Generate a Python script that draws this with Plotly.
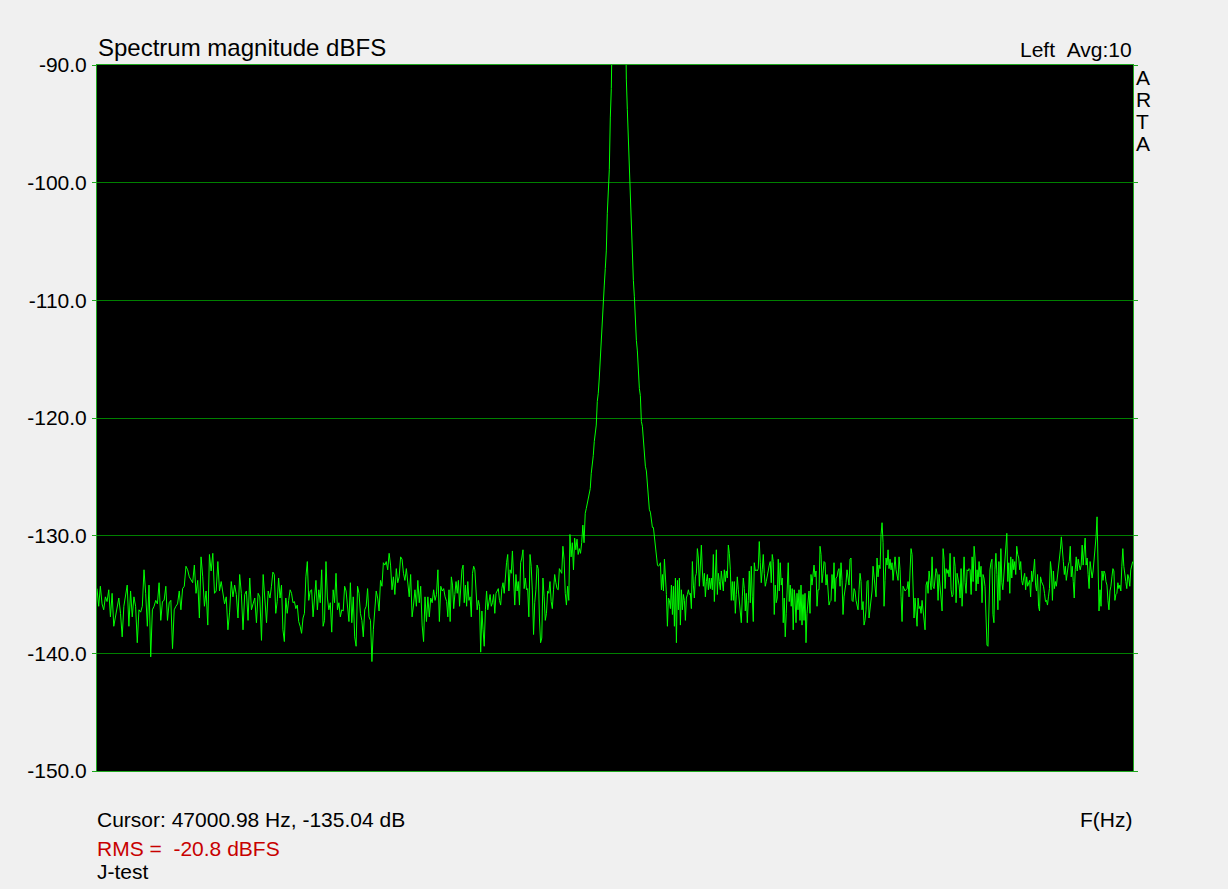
import numpy as np
import plotly.graph_objects as go

# ---------------- data ----------------
FREQ_MIN, FREQ_MAX = 46000, 50000          # x-axis span in Hz (no tick labels shown)
Y_MIN, Y_MAX = -150.0, -90.0
y_ticks = [-150.0, -140.0, -130.0, -120.0, -110.0, -100.0, -90.0]

# each segment: (start Hz, end Hz, magnitude values in dBFS)
seg1_hz = (46000, 46661)
seg1_db = [-134.5, -136.0, -134.3, -135.8, -136.3, -135.2, -135.6, -134.6, -136.9, -134.9, -137.7, -137.0,
           -136.3, -135.3, -136.6, -138.6, -136.0, -135.0, -134.2, -137.7, -134.7, -136.9, -135.2, -136.0,
           -139.1, -136.3, -136.5, -136.0, -132.9, -134.9, -137.7, -134.2, -140.3, -136.3, -136.0, -135.5,
           -135.8, -134.0, -137.2, -135.6, -135.5, -134.3, -137.2, -135.7, -135.5, -139.6, -136.3, -136.0,
           -135.8, -134.7, -136.3, -134.5, -134.3, -132.6, -132.9, -133.5, -133.8, -134.0, -132.5, -134.9,
           -133.8, -137.0, -131.8, -133.5, -136.0, -134.7, -137.6, -131.6, -133.0, -131.5, -134.9, -134.7,
           -132.2, -134.7, -133.9, -134.7, -135.8, -135.2, -138.0, -136.5, -133.9, -135.2, -134.2, -135.0,
           -137.0, -133.3, -134.9, -138.0, -135.0, -134.7, -137.2, -133.6, -136.3, -135.8, -135.3, -137.4,
           -134.9, -135.2, -138.9, -133.3, -135.5, -137.4, -134.7]

seg2_hz = (46668, 47344)
seg2_db = [-135.3, -134.3, -133.1, -133.3, -136.6, -135.6, -133.6, -135.3, -134.2, -138.0, -139.0, -135.3,
           -136.6, -135.5, -134.6, -134.9, -135.7, -135.6, -136.2, -135.9, -137.3, -137.7, -138.3, -137.0,
           -136.6, -133.5, -132.2, -135.5, -134.7, -134.6, -136.9, -135.3, -133.8, -136.3, -134.6, -135.7,
           -132.9, -137.7, -137.2, -132.2, -135.3, -136.3, -135.7, -138.2, -134.6, -135.7, -133.2, -136.3,
           -135.7, -136.9, -136.3, -136.4, -134.3, -134.7, -135.9, -137.3, -134.0, -137.4, -135.2, -138.6,
           -139.4, -134.3, -134.9, -136.6, -137.2, -138.6, -136.3, -136.0, -134.5, -136.9, -137.2, -140.7,
           -138.0, -136.3, -134.7, -135.3, -136.4, -133.8, -134.3, -132.3, -132.5, -132.2, -132.9, -131.5,
           -132.5, -134.6, -133.5, -135.0, -132.8, -134.0, -133.5, -131.8, -132.0, -133.2, -133.8, -132.8,
           -133.8, -135.2, -133.3, -136.9, -135.9, -134.6, -136.0, -133.8, -135.7, -134.3, -137.6, -139.0,
           -135.2, -137.3, -135.2, -136.9, -135.3, -135.7, -134.6, -135.5, -135.0, -132.9, -137.3, -134.3,
           -134.7, -134.5, -135.2]

seg3_hz = (47350, 47885)
seg3_db = [-135.6, -136.9, -134.6, -137.3, -133.5, -134.2, -136.2, -135.0, -133.9, -134.9, -133.8, -136.0,
           -134.6, -132.9, -132.5, -135.7, -134.2, -136.0, -133.9, -135.5, -135.2, -136.9, -133.2, -132.6,
           -132.9, -134.9, -136.3, -135.5, -136.0, -139.9, -136.4, -138.0, -139.4, -136.3, -134.7, -136.3,
           -135.5, -135.0, -136.0, -135.7, -135.0, -136.6, -134.9, -134.7, -134.5, -135.5, -135.9, -134.5,
           -134.0, -134.9, -133.0, -132.3, -131.6, -134.7, -132.9, -133.2, -131.3, -134.6, -135.9, -133.3,
           -134.7, -133.9, -135.9, -132.3, -131.9, -131.2, -134.5, -133.6, -134.6, -134.5, -136.9, -131.6,
           -132.6, -134.7, -138.4, -135.7, -134.6, -132.5, -132.8, -137.0, -139.1, -138.7, -133.6, -135.2,
           -137.2, -136.6, -134.7, -134.9, -133.9, -135.6, -136.2, -134.6, -133.3, -134.0, -134.5, -134.6,
           -132.8, -133.0, -133.2, -130.9, -132.0, -134.9, -135.9, -134.3, -135.5, -129.9, -131.8, -130.6,
           -132.9, -130.2, -131.2, -130.3, -131.6, -131.1, -131.5, -130.6, -129.1, -130.6, -128.1]

peak_hz = (47889, 48156)
peak_db = [-127.7, -127.3, -126.6, -126.3, -126.0, -124.7, -124.1, -123.2, -122.0, -121.3, -120.6, -118.6,
           -117.9, -116.6, -114.8, -113.5, -112.4, -110.1, -108.7, -107.3, -105.8, -102.6, -100.7, -98.9,
           -94.5, -92.0, -86.0, -76.0, -66.0, -58.0, -52.0, -48.0, -46.5, -47.5, -51.0, -57.0,
           -64.0, -72.0, -79.0, -86.0, -91.2, -93.8, -96.1, -100.1, -102.1, -103.7, -106.7, -108.3,
           -109.7, -112.1, -113.4, -114.3, -116.6, -117.5, -118.1, -120.3, -120.7, -121.9, -123.3, -124.1,
           -124.5, -125.4, -126.7, -127.8, -128.0, -128.8, -129.3, -129.3, -130.0, -131.0]

seg4_hz = (48160, 48692)
seg4_db = [-131.9, -132.5, -132.6, -132.5, -132.3, -134.6, -133.3, -134.7, -132.0, -133.2, -135.0, -137.7,
           -135.3, -135.5, -136.2, -134.2, -136.7, -134.3, -137.7, -133.6, -139.1, -133.8, -136.3, -133.6,
           -137.6, -134.6, -136.3, -135.0, -135.5, -137.2, -135.3, -135.0, -134.6, -135.0, -134.9, -136.2,
           -132.2, -134.2, -135.3, -133.5, -133.2, -131.1, -131.9, -134.3, -131.5, -130.8, -133.0, -134.3,
           -133.2, -135.2, -133.9, -133.3, -134.6, -133.6, -134.5, -133.6, -134.6, -131.6, -135.6, -132.3,
           -131.2, -135.0, -133.2, -133.9, -134.6, -133.0, -134.0, -134.7, -132.9, -133.9, -133.0, -133.6,
           -130.8, -131.5, -132.9, -135.5, -133.9, -135.5, -133.9, -136.6, -135.0, -133.5, -134.6, -135.6,
           -136.3, -137.4, -135.2, -133.6, -134.5, -136.4, -134.9, -137.4, -135.5, -133.0, -135.7, -132.6,
           -135.2, -137.3, -132.3, -133.0, -132.9, -133.0, -132.8, -130.5, -132.3, -134.0, -132.9, -131.6,
           -133.2, -134.3, -133.9, -133.3, -132.8, -132.5, -132.2, -134.0, -131.6, -132.2, -136.7, -134.2,
           -135.7, -135.3, -132.0, -134.7, -132.3, -134.2, -133.6, -137.4, -135.3, -138.6, -136.6, -133.3,
           -132.3, -135.6, -134.2, -136.0, -134.5, -138.0, -134.6]

seg5_hz = (48695, 49371)
seg5_db = [-135.3, -137.4, -134.9, -136.3, -134.6, -137.2, -134.2, -137.6, -135.0, -137.2, -134.9, -139.1,
           -136.6, -135.2, -134.7, -136.6, -133.3, -134.2, -132.9, -132.5, -133.5, -133.0, -136.0, -134.6,
           -134.6, -130.9, -131.6, -134.0, -133.2, -132.2, -132.3, -134.2, -133.3, -134.3, -135.9, -135.6,
           -135.5, -133.3, -134.5, -132.3, -135.6, -133.6, -133.5, -133.0, -132.8, -134.3, -132.3, -133.8,
           -136.7, -135.2, -134.7, -134.0, -132.9, -133.5, -134.2, -132.0, -131.9, -135.5, -135.6, -134.5,
           -134.7, -135.5, -135.9, -136.3, -134.6, -133.2, -133.9, -136.3, -135.6, -137.6, -137.2, -136.3,
           -133.9, -133.8, -137.0, -136.2, -135.5, -134.7, -132.6, -133.6, -134.6, -135.2, -131.9, -133.5,
           -132.5, -132.8, -129.9, -128.9, -130.6, -136.0, -133.8, -131.9, -132.5, -131.2, -132.8, -132.0,
           -132.9, -132.3, -133.8, -133.0, -131.8, -132.9, -133.5, -133.8, -131.8, -132.9, -135.2, -137.3,
           -134.3, -134.6, -134.7, -134.6, -134.5, -133.9, -135.2, -133.0, -131.1, -131.6, -133.6, -137.0,
           -135.3, -136.3, -137.7, -135.3, -136.2, -136.0, -136.6, -135.5, -136.3, -137.3, -138.0, -134.2,
           -133.9, -134.9, -133.0, -133.8, -134.6, -131.8, -134.3, -134.5, -133.5, -132.8, -133.2, -135.5,
           -133.3, -134.2, -135.2, -136.4, -131.1, -132.0, -134.5, -132.8, -133.2, -132.9, -133.5, -131.5,
           -134.6, -135.2, -135.0, -131.8, -132.6, -135.7, -133.2, -133.8, -134.2, -135.3, -132.8, -136.0,
           -133.5, -131.8, -134.0, -134.9, -132.9, -133.0, -132.8, -132.9]

seg6_hz = (49375, 49999)
seg6_db = [-135.0, -131.8, -133.9, -130.9, -131.9, -134.7, -132.9, -134.1, -132.2, -133.5, -132.6, -135.7,
           -133.3, -133.6, -134.3, -137.0, -139.3, -139.4, -135.5, -132.9, -132.3, -132.0, -136.7, -137.4,
           -132.9, -131.5, -133.3, -136.3, -132.2, -135.5, -131.1, -134.0, -134.6, -133.3, -132.8, -131.3,
           -129.8, -133.9, -132.3, -134.9, -131.8, -133.6, -132.0, -132.9, -132.2, -133.3, -130.9, -131.6,
           -131.9, -132.9, -132.2, -133.8, -134.2, -133.6, -133.2, -134.6, -133.5, -134.3, -134.0, -133.8,
           -135.2, -133.0, -133.9, -132.9, -132.0, -134.2, -134.7, -133.3, -136.0, -136.4, -133.5, -133.9,
           -134.2, -134.3, -134.9, -135.6, -135.5, -135.9, -135.2, -134.5, -132.2, -133.0, -135.5, -133.0,
           -134.5, -133.9, -134.3, -133.5, -133.2, -132.5, -131.2, -130.1, -131.6, -132.2, -133.3, -132.6,
           -133.8, -133.0, -132.5, -132.2, -130.9, -133.5, -132.6, -133.9, -135.3, -132.9, -131.8, -133.0,
           -132.0, -132.5, -132.9, -132.5, -130.8, -132.5, -131.1, -130.2, -132.5, -131.9, -133.3, -134.5,
           -132.2, -133.2, -133.6, -133.0, -132.0, -131.2, -130.1, -128.4, -132.2, -136.4, -134.6, -136.0,
           -133.0, -133.8, -133.0, -133.2, -133.9, -134.2, -135.5, -136.3, -134.7, -134.3, -133.5, -132.8,
           -133.0, -135.5, -135.0, -134.9, -134.0, -134.5, -134.2, -134.7, -132.6, -131.1, -132.6, -133.5,
           -133.9, -134.5, -133.3, -133.6, -134.3, -132.9, -132.5, -132.2]

segments = [(seg1_hz, seg1_db), (seg2_hz, seg2_db), (seg3_hz, seg3_db), (peak_hz, peak_db),
            (seg4_hz, seg4_db), (seg5_hz, seg5_db), (seg6_hz, seg6_db)]

title_text = "Spectrum magnitude dBFS"
channel_text = "Left\u00a0\u00a0Avg:10"
brand_letters = ["A", "R", "T", "A"]
cursor_text = "Cursor: 47000.98 Hz, -135.04 dB"
rms_text = "RMS =\u00a0\u00a0-20.8 dBFS"
name_text = "J-test"
xlabel_text = "F(Hz)"

# ---------------- build ----------------
freq, mag = [], []
for (f0, f1), vals in segments:
    freq.extend(np.linspace(f0, f1, len(vals)).tolist())
    mag.extend(vals)

FONT = "Arial, 'Liberation Sans', sans-serif"
W, H = 1228, 889
L, R, T, B = 97, 95, 65, 118
PW, PH = W - L - R, H - T - B


def px(x):
    return (x - L) / PW


def py(y):
    return (H - B - y) / PH


fig = go.Figure()
fig.add_trace(go.Scatter(x=freq, y=mag, mode="lines",
                         line=dict(color="#00FF00", width=1), hoverinfo="skip",
                         showlegend=False))

GREEN_AXIS = "#1FA81F"
fig.update_xaxes(range=[FREQ_MIN, FREQ_MAX], showgrid=False, showticklabels=False, ticks="",
                 showline=True, linecolor=GREEN_AXIS, linewidth=1, mirror=True, zeroline=False)
fig.update_yaxes(range=[Y_MIN, Y_MAX], tickvals=y_ticks, ticktext=[f"{v:.1f}" for v in y_ticks],
                 showgrid=True, gridcolor="#008000", gridwidth=1, zeroline=False,
                 showline=True, linecolor=GREEN_AXIS, linewidth=1, mirror="ticks",
                 ticks="outside", ticklen=4, tickcolor=GREEN_AXIS, ticklabelstandoff=1,
                 tickfont=dict(family=FONT, size=21, color="black"))

ann = []


def add(text, x, y, xa, ya="middle", size=21, color="black"):
    ann.append(dict(text=text, x=px(x), y=py(y), xref="paper", yref="paper",
                    xanchor=xa, yanchor=ya, showarrow=False,
                    font=dict(family=FONT, size=size, color=color)))


add(title_text, 96, 47, "left", size=24)
add(channel_text, 1134, 49, "right")
for i, ch in enumerate(brand_letters):
    add(ch, 1134, 77.5 + 22 * i, "left")
add(cursor_text, 95, 819, "left")
add(rms_text, 95, 848, "left", color="#C80000")
add(name_text, 95, 872, "left")
add(xlabel_text, 1134, 819, "right")

fig.update_layout(width=W, height=H, margin=dict(l=L, r=R, t=T, b=B, pad=0),
                  paper_bgcolor="#F0F0F0", plot_bgcolor="black",
                  annotations=ann, showlegend=False)

fig.write_html("out.html", config={"displayModeBar": False},
               post_script="document.body.style.margin='0';"
                           "document.body.style.background='#F0F0F0';"
                           "document.body.style.overflow='hidden';")
